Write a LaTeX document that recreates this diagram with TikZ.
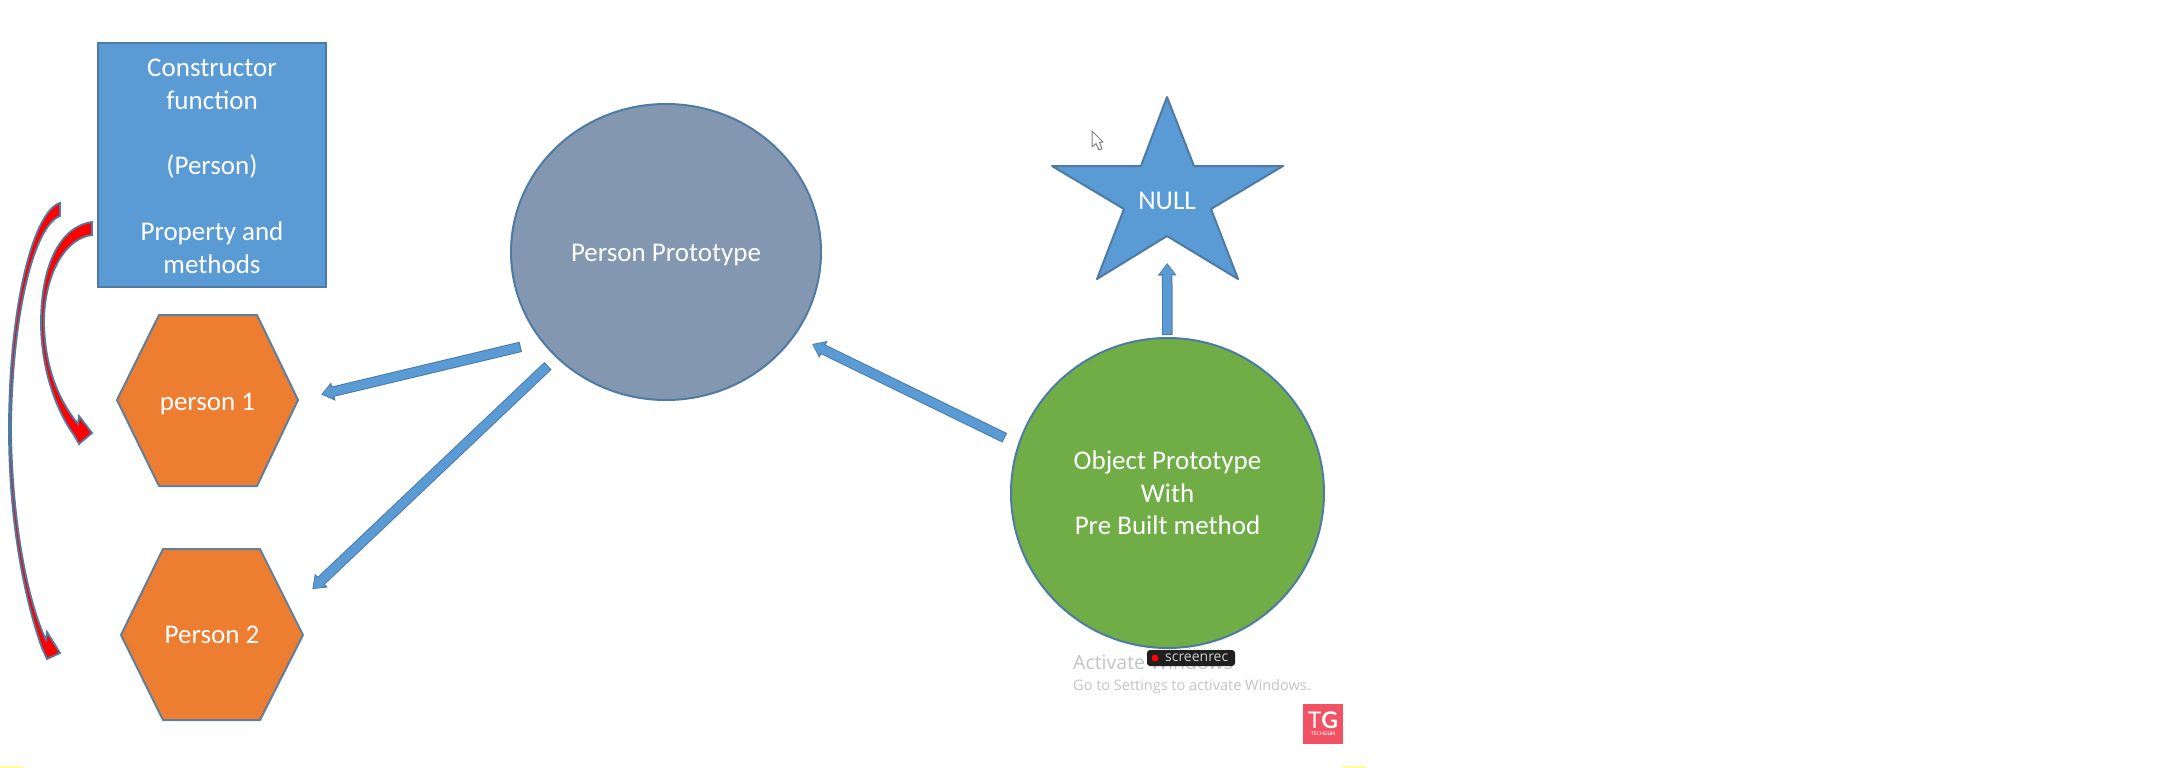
\documentclass[tikz,border=0pt]{standalone}
\usepackage{fontspec}
\setmainfont{Carlito}
\newfontfamily\wmfont{Open Sans}
\newfontfamily\logofont{Lato}
\usetikzlibrary{arrows.meta,shapes.geometric}
\definecolor{boxblue}{HTML}{5B9BD5}
\definecolor{edgeblue}{HTML}{4D7BA3}
\definecolor{hexorange}{HTML}{ED7D31}
\definecolor{hexedge}{HTML}{5F7F9C}
\definecolor{slateblue}{HTML}{8497B0}
\definecolor{leafgreen}{HTML}{70AD47}
\definecolor{wmgray}{HTML}{C4C4C4}
\definecolor{logored}{HTML}{F25264}
\definecolor{paleyellow}{HTML}{FFFF99}
\tikzset{
  shapetext/.style={text=white,font=\fontsize{27}{32.7}\selectfont,align=center,inner sep=0pt,outer sep=0pt},
  oneline/.style={text height=2*#1pt+7pt,text depth=7pt},
  shapeedge/.style={draw=edgeblue,line width=2pt},
  bluebox/.style={shapetext,shapeedge,fill=boxblue,rectangle,minimum width=165*1.385pt,minimum height=244pt},
  roundnode/.style={shapetext,shapeedge,ellipse},
  hexface/.style={draw=hexedge,line width=2pt,fill=hexorange,line join=round},
  hexlabel/.style={shapetext,rectangle,minimum width=181pt,minimum height=171pt},
  blockarrow/.style 2 args={draw=boxblue,line width=8.5pt,shorten <=#1pt+1pt,shorten >=#2pt+1.2pt,
    -{Triangle[length=10pt,width=14pt]},
    preaction={draw=edgeblue,line width=10.5pt,shorten <=#1pt,shorten >=#2pt,-{Triangle[length=12.5pt,width=18pt]}}},
  crescent/.style={draw=edgeblue,line width=1.8pt,fill=red,line join=miter}
}
\begin{document}
\begin{tikzpicture}[x=1pt,y=-1pt]
\useasboundingbox (0,0) rectangle (2172,768);
\fill[white] (0,0) rectangle (2172,768);
\fill[paleyellow] (0,766) rectangle (23,768);
\fill[paleyellow] (1342,766) rectangle (1366,768);

% constructor box
\node[bluebox] (ctor) at (212,165) {\rule{0pt}{20pt}Constructor\\function\\[32.7pt](Person)\\[32.7pt]Property and\\methods};

% hexagons
\draw[hexface] (117,400) -- (159,315) -- (257,315) -- (298,400) -- (257,486) -- (159,486) -- cycle;
\node[hexlabel,oneline=10] (pone) at (207.5,400) {person 1};
\draw[hexface] (121,635) -- (163,549) -- (260,549) -- (303,635) -- (260,720) -- (163,720) -- cycle;
\node[hexlabel,oneline=8] (ptwo) at (212,635) {Person 2};

% circles
\node[roundnode,oneline=9,fill=slateblue,minimum width=310pt,minimum height=296pt] (proto) at (666,252) {Person Prototype};
\node[roundnode,fill=leafgreen,minimum width=313pt,minimum height=310pt] (objproto) at (1167.5,493) {Object Prototype\\With\\Pre Built method};

% star
\draw[shapeedge,fill=boxblue,line join=round] (1167,97) -- (1194,166) -- (1283,166) -- (1211,209) -- (1238,279)
  -- (1167,236) -- (1097,279) -- (1124,209) -- (1052,166) -- (1141,166) -- cycle;
\node[shapetext,oneline=9,minimum width=100pt,minimum height=72pt] (nullstar) at (1167,200) {NULL};

% block arrows
\draw[blockarrow={22.5}{23.8}] (proto.216.5) -- (pone.east);
\draw[blockarrow={12.4}{13.5}] (proto.224.3) -- (ptwo.22);
\draw[blockarrow={15.6}{20}] (objproto.162.9) -- (proto.327);
\draw[blockarrow={3}{27}] (objproto.north) -- (nullstar.south);

% curved red arrows
\draw[crescent] (92,222) .. controls (62,226) and (41,262) .. (41,323)
  .. controls (41,370) and (57,412) .. (74,435) -- (79,444) -- (92,433) -- (79,416) -- (78,424)
  .. controls (60,402) and (45,370) .. (44,323) .. controls (44,275) and (65,238) .. (92,235) -- cycle;
\draw[crescent] (60,203) .. controls (35,210) and (9,300) .. (9,430)
  .. controls (9,520) and (24,598) .. (42,648) -- (47,659) -- (60,653) -- (47,632) -- (46,640)
  .. controls (27,600) and (12,520) .. (11,430) .. controls (12,310) and (35,225) .. (60,216) -- cycle;

% mouse pointer
\draw[draw=gray,fill=white,line width=1pt,line join=round] (1092,131) -- (1092,147) -- (1096,143.5) -- (1099,150) -- (1102,148.5) -- (1099.5,142.5) -- (1103,142) -- cycle;

% watermark
\node[anchor=base west,inner sep=0pt,text=wmgray,font=\wmfont\fontsize{19.5}{24}\selectfont] (activate) at (1073,669) {Activate Windows};
\node[anchor=base west,inner sep=0pt,text=wmgray,font=\wmfont\fontsize{14.5}{18}\selectfont] (gosettings) at (1073,690) {Go to Settings to activate Windows.};

% screen recorder badge
\node[rectangle,rounded corners=3pt,fill=black!88,minimum width=88pt,minimum height=16pt,inner sep=0pt] (badge) at (1191,658) {};
\node[circle,fill=red,inner sep=0pt,minimum size=7pt] (recdot) at (1155,658) {};
\node[anchor=west,inner sep=0pt,text=black!18,font=\wmfont\fontsize{14}{14}\selectfont] (badgetext) at (1165,658) {screenrec};

% logo
\node[rectangle,fill=logored,minimum size=40pt,inner sep=0pt] (logobox) at (1323,724) {};
\node[inner sep=0pt,text=white,font=\logofont\fontsize{23}{23}\selectfont] (logotg) at (1323,720) {T\textbf{G}};
\node[inner sep=0pt,text=white,font=\logofont\fontsize{5}{5}\selectfont] (logoname) at (1323,733.5) {TECH\textbf{GUN}};
\end{tikzpicture}
\end{document}
